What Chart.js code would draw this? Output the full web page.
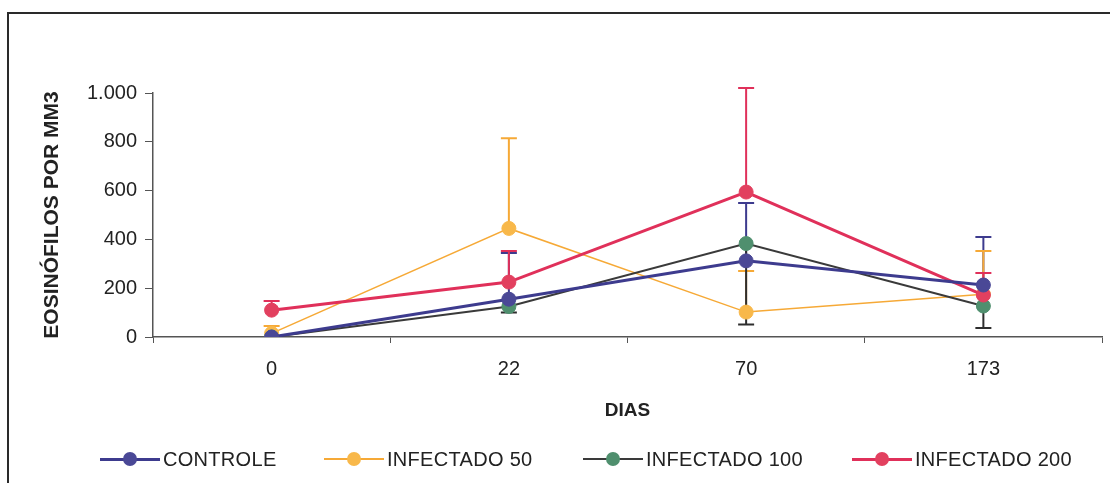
<!DOCTYPE html>
<html>
<head>
<meta charset="utf-8">
<script src="https://cdn.jsdelivr.net/npm/chart.js@4.4.0/dist/chart.umd.min.js"></script>
<style>
  body { margin: 0; background: #fff; overflow: hidden; font-family: "Liberation Sans", Arial, sans-serif; }
  #container { position: relative; width: 1110px; height: 483px; overflow: hidden; }
  #frame { position: absolute; left: 7px; top: 12px; width: 1300px; height: 700px; border: 2px solid #2a2a2a; }
  #chart { position: absolute; left: 0; top: 0; }
  .leg { position: absolute; top: 447px; height: 24px; font-size: 20px; color: #222; line-height: 24px; white-space: nowrap; }
  .leg .ln { position: absolute; top: 11px; left: 0; width: 60px; }
  .leg .dot { position: absolute; top: 5px; left: 23px; width: 14px; height: 14px; border-radius: 50%; }
  .leg .tx { position: absolute; left: 63px; top: 0; letter-spacing: 0.3px; }
</style>
</head>
<body>
<div id="container">
  <div id="frame"></div>
  <canvas id="chart" width="1110" height="483"></canvas>
</div>

<script>
// dias de coleta
var labels = ['0', '22', '70', '173'];

// eosinofilos por mm3 (media) e desvio
var controle = [0, 155, 312, 213];
var controleErr = [0, 189, 237, 197];
var infectado50 = [15, 445, 102, 175];
var infectado50Err = [30, 370, 168, 177];
var infectado100 = [0, 125, 383, 127];
var infectado100Err = [0, 25, 332, 90];
var infectado200 = [110, 225, 594, 172];
var infectado200Err = [38, 127, 426, 90];

var yTicks = [0, 200, 400, 600, 800, 1000];

var series = [
  { label: 'CONTROLE', data: controle, err: controleErr, dir: 1, line: '#3d3b8e', fill: '#4a4896', width: 3, errColor: '#3d3b8e', legX: 100, order: 0 },
  { label: 'INFECTADO 50', data: infectado50, err: infectado50Err, dir: 1, line: '#f6a936', fill: '#f8b84a', width: 1.5, errColor: '#f6a936', legX: 324, order: 3 },
  { label: 'INFECTADO 100', data: infectado100, err: infectado100Err, dir: -1, line: '#3a3a3a', fill: '#4f8f6e', width: 2, errColor: '#2e2e2e', legX: 583, order: 2 },
  { label: 'INFECTADO 200', data: infectado200, err: infectado200Err, dir: 1, line: '#e0305a', fill: '#e2405f', width: 3, errColor: '#e0305a', legX: 852, order: 1 }
];

// barras de erro, desenhadas pela escala do grafico
var errorBars = {
  id: 'errorBars',
  beforeDatasetsDraw: function(chart) {
    var ctx = chart.ctx;
    var y = chart.scales.y;
    chart.data.datasets.forEach(function(ds, i) {
      var meta = chart.getDatasetMeta(i);
      ctx.save();
      ctx.strokeStyle = ds.errColor;
      ctx.lineWidth = 2;
      meta.data.forEach(function(pt, j) {
        var e = ds.err[j];
        if (!e) return;
        var v = ds.data[j] + ds.dir * e;
        var py = y.getPixelForValue(v);
        ctx.beginPath();
        ctx.moveTo(pt.x, pt.y);
        ctx.lineTo(pt.x, py);
        ctx.moveTo(pt.x - 8, py);
        ctx.lineTo(pt.x + 8, py);
        ctx.stroke();
      });
      ctx.restore();
    });
  }
};

var ctx = document.getElementById('chart').getContext('2d');
var chart = new Chart(ctx, {
  type: 'line',
  data: {
    labels: labels,
    datasets: series.map(function(s) {
      return {
        label: s.label,
        data: s.data,
        err: s.err,
        dir: s.dir,
        order: s.order,
        errColor: s.errColor,
        borderColor: s.line,
        borderWidth: s.width,
        backgroundColor: s.fill,
        pointBackgroundColor: s.fill,
        pointBorderColor: s.fill,
        pointRadius: 7,
        pointBorderWidth: 1,
        tension: 0,
        fill: false
      };
    })
  },
  options: {
    responsive: false,
    animation: false,
    layout: { padding: { left: 0, right: 0, top: 93, bottom: 50 } },
    plugins: {
      legend: { display: false },
      tooltip: { enabled: false }
    },
    scales: {
      x: {
        offset: true,
        grid: { display: true, offset: true, drawOnChartArea: false, tickLength: 6, color: '#555' },
        border: { color: '#555', width: 1.5 },
        ticks: { color: '#222', font: { family: 'Liberation Sans', size: 20 }, padding: 14 },
        title: { display: true, text: 'DIAS', color: '#222', font: { family: 'Liberation Sans', size: 19, weight: 'bold' }, padding: { top: 0, bottom: 11 } },
        afterFit: function(scale) { scale.height = 96; }
      },
      y: {
        min: 0,
        max: 1000,
        afterBuildTicks: function(scale) { scale.ticks = yTicks.map(function(v) { return { value: v }; }); },
        grid: { display: true, drawOnChartArea: false, tickLength: 8, color: '#555' },
        border: { color: '#555', width: 1.5 },
        ticks: {
          color: '#222',
          font: { family: 'Liberation Sans', size: 20 },
          padding: 8,
          callback: function(v) { return String(v).replace(/\B(?=(\d{3})+(?!\d))/g, '.'); }
        },
        title: { display: true, text: 'EOSINÓFILOS POR MM3', color: '#222', font: { family: 'Liberation Sans', size: 21, weight: 'bold' }, padding: { top: 40, bottom: 0 } },
        afterFit: function(scale) { scale.width = 153; }
      }
    }
  },
  plugins: [errorBars]
});

// legenda em html (linha com marcador)
var container = document.getElementById('container');
series.forEach(function(s) {
  var d = document.createElement('div');
  d.className = 'leg';
  d.style.left = s.legX + 'px';
  d.innerHTML = '<span class="ln" style="height:' + Math.max(2, s.width) + 'px;margin-top:' + (-Math.max(2, s.width) / 2 + 1) + 'px;background:' + s.line + '"></span>' +
    '<span class="dot" style="background:' + s.fill + '"></span>' +
    '<span class="tx">' + s.label + '</span>';
  container.appendChild(d);
});
</script>
</body>
</html>
